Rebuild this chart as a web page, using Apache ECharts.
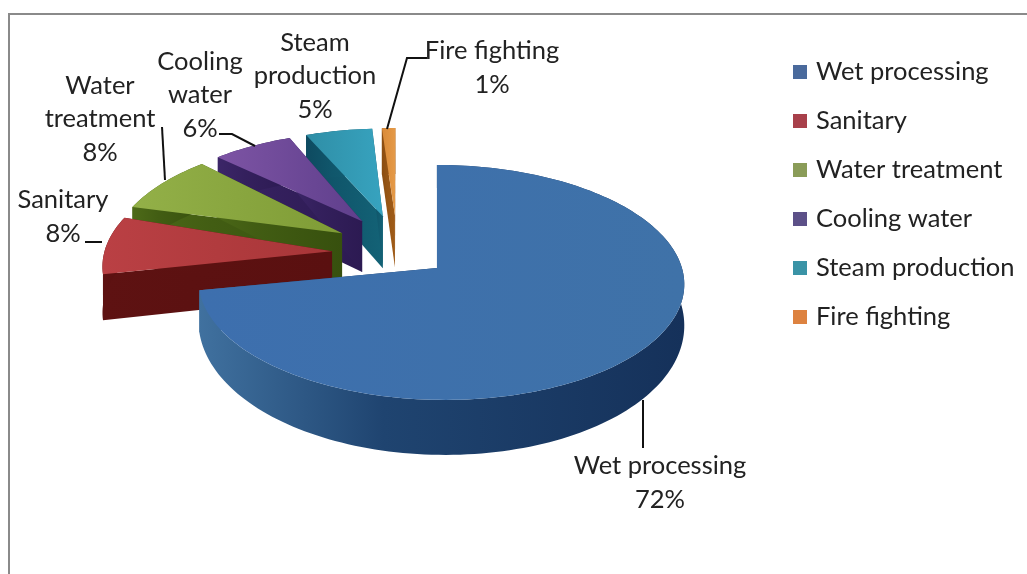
<!DOCTYPE html>
<html>
<head>
<meta charset="utf-8">
<style>html,body{margin:0;padding:0;background:#fff}#chart{width:1027px;height:574px}</style>
<script src="https://cdn.jsdelivr.net/npm/echarts@6/dist/echarts.min.js"></script>
</head>
<body>
<div id="chart"></div>
<script>
// Water use shares, in slice order clockwise from twelve o'clock.
const categories = ['Wet processing', 'Sanitary', 'Water treatment', 'Cooling water', 'Steam production', 'Fire fighting'];
const shares = [72, 8, 8, 6, 5, 1];
const labelLines = [
  ['Wet processing'], ['Sanitary'], ['Water', 'treatment'],
  ['Cooling', 'water'], ['Steam', 'production'], ['Fire fighting']
];

// Styling of each slice: legend swatch, top face, side wall.
const swatch = ['#4a6a9c', '#a8404a', '#8a9c58', '#5c5088', '#3a93a6', '#dd8240'];
const topFace = [['#3d6fae', '#3f72a8'], ['#ba4044', '#a83638'], ['#93b048', '#7f9c36'], ['#7d54a4', '#5f3f8c'], ['#2f8ea6', '#37a3bf'], ['#d98a38', '#e59a48']];
const wallFace = [['#40719f', '#1f4470', '#15315a'], ['#5e1212', '#5c1111', '#5a1010'], ['#4d6a18', '#425d13', '#37500e'], ['#3c2668', '#34205d', '#2c1a52'], ['#0e4a60', '#10566b', '#136276'], ['#8a4c10', '#955414', '#a05c18']];

// Label anchors and leader polylines, in page pixels.
const labelPos = [[660, 483], [63, 217], [100, 119], [200, 95], [315, 76], [492, 68]];
const leaders = [
  [[643, 400], [643, 448]],
  [[85, 242], [102, 242]],
  [[162, 127], [165, 180]],
  [[219, 134], [232, 134], [255, 146]],
  null,
  [[427, 58], [407, 58], [387, 129]]
];

// Projection of the tilted pie onto the page.
const pie = {
  cx: 397, cy: 253.6, rx: 241, ry: 115.7, persp: 0.123,
  explodeX: 0.215, explodeY: 0.195,
  tipPullX: 0.055, tipPullY: 0.135,
  nearShear: 8
};
const total = shares.reduce((a, b) => a + b, 0);
const RAD = Math.PI / 180;

function wedge(index) {
  const before = shares.slice(0, index).reduce((a, b) => a + b, 0);
  const from = before / total * 360;
  const to = (before + shares[index]) / total * 360;
  return { from, to, mid: (from + to) / 2 };
}

function buildSlice(index, value) {
  const { from, to, mid } = wedge(index);
  const sinMid = Math.sin(mid * RAD);
  const cosMid = Math.cos(mid * RAD);
  const ax = pie.cx + pie.explodeX * pie.rx * sinMid;
  const ay = pie.cy - pie.explodeY * pie.ry * cosMid;
  const inBack = sinMid < 0;
  const backShift = pie.explodeY * cosMid;
  const depthAt = (back) => inBack ? 46 : 37 - 16 * (back + backShift);

  const rimPoint = (deg) => {
    const back = Math.cos(deg * RAD);
    const s = 1 / (1 + pie.persp * back);
    // The rim of the large near slice leans slightly right as it comes toward the viewer.
    const lean = inBack ? 0 : pie.nearShear * (1 - back) / 2;
    const p = [ax + lean + pie.rx * Math.sin(deg * RAD) * s, ay - pie.ry * back * s];
    return { p, low: [p[0], p[1] + depthAt(back)] };
  };

  const rim = [];
  const steps = Math.max(2, Math.ceil((to - from) / 1.5));
  for (let i = 0; i <= steps; i++) rim.push(rimPoint(from + (to - from) * i / steps));

  // Wedges pushed to the far side foreshorten, so their tips sit further along the push.
  const tip = inBack
    ? [ax + pie.tipPullX * pie.rx * sinMid, ay - pie.tipPullY * pie.ry * cosMid]
    : [ax, ay];
  const tipLow = [tip[0], tip[1] + (inBack ? 44 + 8 * cosMid : depthAt(0))];

  const grad = (c) => new echarts.graphic.LinearGradient(0, 0, 1, 0,
    c.map((color, i) => ({ offset: c.length === 3 ? [0, 0.38, 1][i] : i, color })));
  const wallStyle = { fill: grad(wallFace[index]) };
  const children = [];

  // Side walls go first, the top face then covers whatever faces away.
  children.push({ type: 'polygon', shape: { points: [tip, rim[0].p, rim[0].low, tipLow] }, style: wallStyle });
  const last = rim[rim.length - 1];
  children.push({ type: 'polygon', shape: { points: [tip, last.p, last.low, tipLow] }, style: wallStyle });
  children.push({
    type: 'polygon',
    shape: { points: rim.map(r => r.p).concat(rim.map(r => r.low).reverse()) },
    style: wallStyle
  });
  children.push({
    type: 'polygon',
    shape: { points: [tip].concat(rim.map(r => r.p)) },
    style: { fill: grad(topFace[index]) }
  });

  if (leaders[index]) {
    children.push({
      type: 'polyline',
      shape: { points: leaders[index] },
      style: { stroke: '#111', lineWidth: 2, fill: null }
    });
  }
  children.push({
    type: 'text',
    x: labelPos[index][0],
    y: labelPos[index][1],
    style: {
      text: labelLines[index].concat(value + '%').join('\n'),
      align: 'center',
      verticalAlign: 'middle',
      lineHeight: 33.5,
      fill: '#222',
      font: '25.5px Lato'
    }
  });
  return { type: 'group', children };
}

// One custom series per slice, stacked so nearer slices paint over farther ones.
const sliceZ = [6, 5, 4, 3, 2, 1];
const series = categories.map((name, i) => ({
  type: 'custom',
  name,
  coordinateSystem: 'none',
  z: sliceZ[i],
  color: swatch[i],
  itemStyle: { color: swatch[i] },
  silent: true,
  data: [{ name, value: [shares[i]] }],
  renderItem: (params, api) => buildSlice(i, api.value(0))
}));

const chart = echarts.init(document.getElementById('chart'), null, { renderer: 'canvas' });
chart.setOption({
  animation: false,
  backgroundColor: '#ffffff',
  graphic: [
    { type: 'rect', shape: { x: 8, y: 13, width: 1019, height: 2 }, style: { fill: '#8a8a8a' }, silent: true },
    { type: 'rect', shape: { x: 8, y: 13, width: 2, height: 561 }, style: { fill: '#8a8a8a' }, silent: true }
  ],
  legend: {
    data: categories,
    orient: 'vertical',
    left: 788,
    top: 53,
    icon: 'rect',
    itemWidth: 14,
    itemHeight: 14,
    itemGap: 21,
    selectedMode: false,
    textStyle: { fontFamily: 'Lato', fontSize: 25.5, color: '#222', lineHeight: 28, padding: [0, 0, 0, 4] }
  },
  series
});
</script>
</body>
</html>
